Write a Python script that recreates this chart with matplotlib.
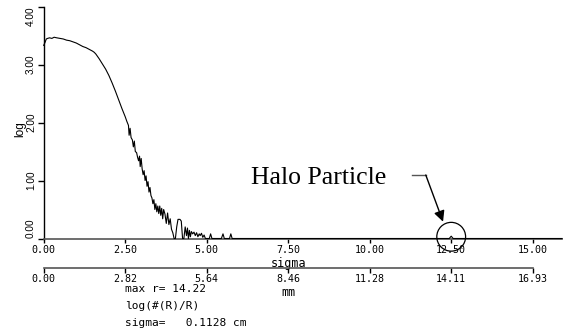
import matplotlib
matplotlib.use("Agg")
import matplotlib.pyplot as plt

# Radial profile: log(#(R)/R) versus radius in units of sigma
sigma_vals = [
    0.00, 0.04, 0.08, 0.12, 0.18, 0.25, 0.32, 0.40, 0.50, 0.60,
    0.70, 0.80, 0.90, 1.00, 1.10, 1.20, 1.30, 1.40, 1.50, 1.55,
    1.60, 1.70, 1.80, 1.90, 2.00, 2.10, 2.20, 2.30, 2.40, 2.50,
    2.55, 2.60, 2.62, 2.65, 2.68, 2.72, 2.75, 2.78, 2.81, 2.85,
    2.88, 2.91, 2.94, 2.96, 2.99, 3.02, 3.05, 3.08, 3.11, 3.14,
    3.17, 3.20, 3.23, 3.26, 3.29, 3.32, 3.35, 3.38, 3.41, 3.44,
    3.47, 3.50, 3.53, 3.56, 3.59, 3.62, 3.65, 3.68, 3.72, 3.76,
    3.80, 3.84, 3.88, 3.92, 3.96, 4.00, 4.04, 4.08, 4.12, 4.18,
    4.22, 4.26, 4.30, 4.34, 4.38, 4.41, 4.44, 4.47, 4.50, 4.53,
    4.57, 4.61, 4.65, 4.69, 4.73, 4.77, 4.80, 4.84, 4.88, 4.92,
    4.96, 5.00, 5.04, 5.08, 5.12, 5.16, 5.45, 5.50, 5.54, 5.70,
    5.74, 5.78, 12.44, 12.50, 12.56, 15.90,
]
log_vals = [
    3.33, 3.38, 3.44, 3.45, 3.46, 3.45, 3.47, 3.46, 3.45, 3.44,
    3.42, 3.41, 3.39, 3.37, 3.34, 3.31, 3.29, 3.26, 3.23, 3.21,
    3.18, 3.10, 3.01, 2.92, 2.81, 2.68, 2.54, 2.39, 2.24, 2.10,
    2.02, 1.95, 1.78, 1.90, 1.74, 1.70, 1.58, 1.68, 1.50, 1.48,
    1.40, 1.34, 1.42, 1.24, 1.38, 1.20, 1.10, 1.17, 1.00, 1.08,
    0.90, 0.98, 0.80, 0.88, 0.74, 0.70, 0.60, 0.67, 0.50, 0.60,
    0.46, 0.56, 0.43, 0.56, 0.40, 0.52, 0.34, 0.50, 0.42, 0.26,
    0.44, 0.24, 0.34, 0.16, 0.10, 0.00, 0.00, 0.20, 0.33, 0.33,
    0.30, 0.00, 0.00, 0.20, 0.05, 0.18, 0.00, 0.14, 0.03, 0.12,
    0.08, 0.11, 0.05, 0.10, 0.03, 0.08, 0.05, 0.09, 0.02, 0.06,
    0.00, 0.00, 0.00, 0.00, 0.08, 0.00, 0.00, 0.08, 0.00, 0.00,
    0.08, 0.00, 0.00, 0.04, 0.00, 0.00,
]

sigma_ticks = [0.0, 2.5, 5.0, 7.5, 10.0, 12.5, 15.0]
sigma_tick_labels = ["0.00", "2.50", "5.00", "7.50", "10.00", "12.50", "15.00"]
mm_ticks = [0.0, 2.82, 5.64, 8.46, 11.28, 14.11, 16.93]
mm_tick_labels = ["0.00", "2.82", "5.64", "8.46", "11.28", "14.11", "16.93"]
log_ticks = [0.0, 1.0, 2.0, 3.0, 4.0]
log_tick_labels = ["0.00", "1.00", "2.00", "3.00", "4.00"]

halo_sigma = 12.5
halo_log = 0.03

W, H = 564, 333
fig = plt.figure(figsize=(W / 100, H / 100), dpi=100)

mono = "DejaVu Sans Mono"
sans = "Liberation Sans"

# main panel
px_per_sigma = 32.6
ax_left, ax_right = 43.7, 43.7 + 15.9 * px_per_sigma
ax_top, ax_bottom = 6.5, 238.5
ax = fig.add_axes([ax_left / W, 1 - ax_bottom / H,
                   (ax_right - ax_left) / W, (ax_bottom - ax_top) / H])
ax.set_xlim(0, 15.9)
ax.set_ylim(0, 4)
ax.patch.set_alpha(0)

ax.plot(sigma_vals, log_vals, color="black", lw=0.8, clip_on=False, zorder=3)

for s in ("top", "right"):
    ax.spines[s].set_visible(False)
ax.spines["left"].set_color("black")
ax.spines["left"].set_linewidth(1.0)
ax.spines["bottom"].set_color("#555555")
ax.spines["bottom"].set_linewidth(1.2)

ax.set_xticks(sigma_ticks)
ax.set_xticklabels(sigma_tick_labels, family=mono, fontsize=7.2)
ax.set_yticks(log_ticks)
ax.set_yticklabels(log_tick_labels, family=sans, fontsize=7.2,
                   rotation=90, va="center")
# keep the end labels inside the axis span
ylabels = ax.get_yticklabels()
ylabels[0].set_va("bottom")
ylabels[-1].set_va("top")
ax.tick_params(axis="x", direction="out", length=3, width=1,
               color="black", pad=1.5)
ax.tick_params(axis="y", direction="out", length=4.5, width=1,
               color="black", pad=1.0)

xt = ax.get_xaxis_transform()
ax.text(7.5, -0.106, "sigma", transform=xt, ha="center", va="center",
        family=mono, fontsize=8.5)
ax.text(7.5, -0.233, "mm", transform=xt, ha="center", va="center",
        family=mono, fontsize=8.5)

# secondary scale in millimetres
mm_y = 268.0
ax_mm = fig.add_axes([ax_left / W, 1 - mm_y / H,
                      15 * px_per_sigma / W, 0.0001])
ax_mm.set_xlim(0, 16.93)
ax_mm.set_ylim(0, 1)
ax_mm.patch.set_alpha(0)
for s in ("top", "right", "left"):
    ax_mm.spines[s].set_visible(False)
ax_mm.spines["bottom"].set_color("#555555")
ax_mm.spines["bottom"].set_linewidth(1.2)
ax_mm.set_yticks([])
ax_mm.set_xticks(mm_ticks)
ax_mm.set_xticklabels(mm_tick_labels, family=mono, fontsize=7.2)
ax_mm.tick_params(axis="x", direction="out", length=3.5, width=1,
                  color="black", pad=1.0)

# y label
fig.text(20 / W, 1 - 129 / H, "log", rotation=90, ha="center", va="center",
         family=sans, fontsize=8.5)

# parameter block
info_x = 125 / W
info_font = dict(family=mono, fontsize=8, va="center", ha="left")
fig.text(info_x, 1 - 289 / H, "max r= 14.22", **info_font)
fig.text(info_x, 1 - 306 / H, "log(#(R)/R)", **info_font)
fig.text(info_x, 1 - 323 / H, "sigma=   0.1128 cm", **info_font)

# halo particle callout
ax.scatter([halo_sigma], [halo_log], s=430, facecolors="none",
           edgecolors="black", linewidths=0.9, clip_on=False, zorder=4)
ax.text(251 / W, 1 - 183.5 / H, "Halo Particle", transform=fig.transFigure,
        family="Liberation Serif", fontsize=18.5, ha="left", va="baseline")
ax.plot([11.29, 11.72], [1.095, 1.095], color="#555555", lw=1.0,
        clip_on=False, zorder=4)
ax.annotate("", xy=(12.25, 0.29), xytext=(11.72, 1.095),
            arrowprops=dict(arrowstyle="-|>", color="black", lw=1.0,
                            mutation_scale=16, shrinkA=0, shrinkB=0),
            zorder=4)

fig.savefig("out.png", dpi=100)
